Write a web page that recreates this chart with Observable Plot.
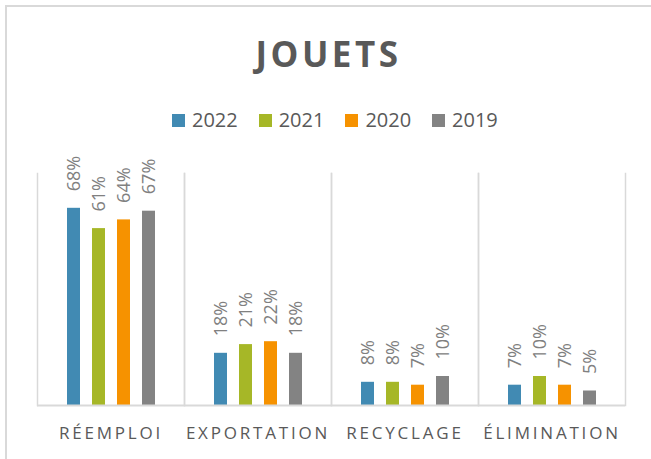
<!DOCTYPE html>
<html>
<head>
<meta charset="utf-8">
<script src="https://cdn.jsdelivr.net/npm/d3@7"></script>
<script src="https://cdn.jsdelivr.net/npm/@observablehq/plot@0.6"></script>
<style>
  html, body { margin: 0; padding: 0; background: #fff; }
  #wrap { position: relative; width: 651px; height: 459px; overflow: hidden; background: #fff; font-family: "Open Sans", sans-serif; }
  #border { position: absolute; left: 5px; top: 5px; right: -10px; bottom: -10px; border-left: 2px solid #d9d9d9; border-top: 2px solid #d9d9d9; }
  #title { position: absolute; left: 0; top: 36px; width: 651px; padding-left: 6px; box-sizing: border-box; text-align: center; font-size: 35px; line-height: 35px; font-weight: bold; color: #595959; letter-spacing: 3.5px; }
  #legend { position: absolute; left: 172px; top: 110px; display: flex; font-size: 20px; line-height: 20px; color: #595959; }
  .item { display: flex; align-items: center; width: 86.7px; }
  .sw { width: 13px; height: 13px; margin-right: 7px; flex: none; }
  #chart { position: absolute; left: 0; top: 140px; }
</style>
</head>
<body>
<div id="wrap">
  <div id="border"></div>
  <div id="title">JOUETS</div>
  <div id="legend"></div>
  <div id="chart"></div>
</div>
<script>
const categories = ["RÉEMPLOI", "EXPORTATION", "RECYCLAGE", "ÉLIMINATION"];
const years = ["2022", "2021", "2020", "2019"];
const values2022 = [68, 18, 8, 7];
const values2021 = [61, 21, 8, 10];
const values2020 = [64, 22, 7, 7];
const values2019 = [67, 18, 10, 5];
const colors = ["#418AB3", "#A6B727", "#F69200", "#838383"];

const series = [values2022, values2021, values2020, values2019];
const data = [];
categories.forEach((c, i) => {
  years.forEach((y, j) => {
    data.push({category: c, year: y, value: series[j][i]});
  });
});

// legend
const legend = document.getElementById("legend");
years.forEach((y, j) => {
  const it = document.createElement("div");
  it.className = "item";
  const sw = document.createElement("span");
  sw.className = "sw";
  sw.style.background = colors[j];
  const tx = document.createElement("span");
  tx.textContent = y;
  it.appendChild(sw);
  it.appendChild(tx);
  legend.appendChild(it);
});

const grid = "#d9d9d9";
const chart = Plot.plot({
  width: 651,
  height: 319,
  marginTop: 33,
  marginBottom: 54,
  marginLeft: 35,
  marginRight: 25,
  style: {fontFamily: "Open Sans, sans-serif", fontSize: "17px", color: "#595959", background: "transparent"},
  fx: {domain: categories, padding: 0, label: null, tickSize: 0, tickPadding: 21, axis: "bottom"},
  x: {domain: years, paddingInner: 0.49, paddingOuter: 1.16, axis: null},
  y: {domain: [0, 80], axis: null},
  color: {domain: years, range: colors},
  marks: [
    Plot.frame({anchor: "left", stroke: grid, strokeWidth: 1.5}),
    Plot.frame({anchor: "right", stroke: grid, strokeWidth: 1.5}),
    Plot.barY(data, {fx: "category", x: "year", y: "value", fill: "year"}),
    Plot.ruleY([0], {stroke: grid, strokeWidth: 2}),
    Plot.text(data, {fx: "category", x: "year", y: "value", text: d => d.value + "%", rotate: -90, textAnchor: "start", dy: -17, fill: "#808080", fontSize: 18})
  ]
});
document.getElementById("chart").appendChild(chart);
d3.select(chart).selectAll("text")
  .filter(function() { return categories.includes(this.textContent); })
  .style("letter-spacing", "2.8px")
  .style("font-size", "17px")
  .attr("fill", "#595959");
</script>
</body>
</html>
